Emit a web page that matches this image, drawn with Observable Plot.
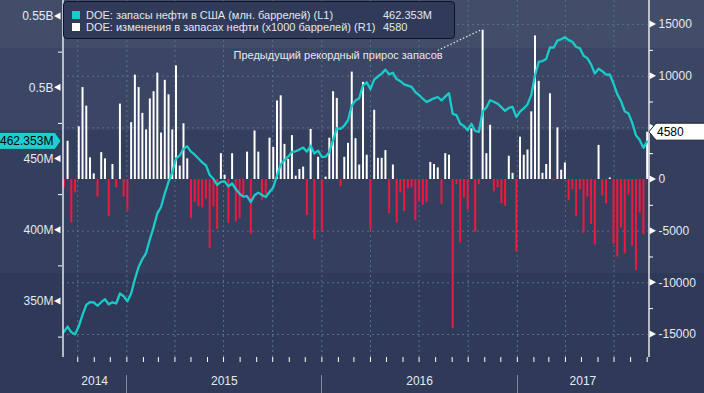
<!DOCTYPE html>
<html>
<head>
<meta charset="utf-8">
<script src="https://cdn.jsdelivr.net/npm/d3@7"></script>
<script src="https://cdn.jsdelivr.net/npm/@observablehq/plot@0.6"></script>
<style>
  html, body { margin: 0; padding: 0; background: #2e3a57; }
  #chart { position: relative; width: 704px; height: 393px; overflow: hidden;
    background: linear-gradient(to bottom, #414d69 0px, #414d69 48px, #3a4663 48px, #3a4663 130px, #333f5c 130px, #333f5c 273px, #2e3a57 273px, #2e3a57 393px);
    font-family: "Liberation Sans", Arial, sans-serif; }
  #chart svg { position: absolute; left: 0; top: 0; }
  .legend { position: absolute; left: 63px; top: 1px; width: 392px; height: 38px; box-sizing: border-box;
    background: #2f3b58; border: 1px solid #0e1424; border-radius: 4px; color: #e3e7ee; font-size: 11px; }
  .legend .row { position: absolute; left: 0; height: 12px; line-height: 12px; white-space: nowrap; }
  .legend .sw { position: absolute; left: 8px; top: 2px; width: 8px; height: 8px; }
  .legend .lab { position: absolute; left: 22px; top: 0; }
  .legend .val { position: absolute; left: 319px; top: 0; }
</style>
</head>
<body>
<div id="chart"></div>
<script>
// ---- data (weekly, Fridays from 2014-09-05 to 2017-09-01) ----
const firstWeek = "2014-09-05";
const lastWeek = "2017-09-01";

// weekly change in crude stocks, thousand barrels (R1)
const changes = [
  -800, 3700, -4200, -1300, 5100, 8900, 7100, 2100, 550, -1700,
  2600, 2000, -3600, 1450, -800, 7300, -1700, -3000, 5500, 10100,
  8900, 6400, 4800, 7800, 8500, 10300, 4500, 9600, 8200, 4800,
  11000, 1300, 5400, 2000, -3800, -2200, -2650, -2750, -1900, -6700,
  -2650, -4850, 2500, 420, -4250, 2500, -4100, -3800, -1600, 2650,
  -5300, 4700, 2650, -2000, -1450, 4000, 3100, 7600, 8100, 3400,
  1950, 4250, 320, 970, 1200, -3500, 4850, -5800, 2150, -5050,
  230, 4000, 8500, 7850, -700, 2150, 3500, 10400, 3950, 1400,
  9400, 2350, -4900, 6700, 2050, 2050, 2800, -3300, 1400, -4200,
  -1300, -3100, -900, -800, -4000, -2100, -2500, -2250, 1650, 1450,
  1130, -2400, 2500, 2350, -14450, -500, -6150, -1800, -2950, 4900,
  -5100, -500, 14450, 2500, 5250, -1200, -800, -2350, -2600, 2250,
  600, -7000, 4100, 2350, 2850, 6550, 13900, 9500, 600, 1450,
  8300, -150, 5000, 900, 1600, -2050, -1000, -3600, -1000, -5200,
  -1700, -4350, -6350, 3300, -1600, -2350, 150, -6250, -7500, -4700,
  -7200, -1500, -6450, -8800, -3250, -5350, 4580
];

// US crude stocks, million barrels (L1)
const stocks = [
  328.5, 332.4, 328.4, 327.0, 332.6, 340.6, 347.6, 349.6, 349.4, 347.0,
  349.5, 351.6, 348.0, 349.4, 348.6, 355.6, 353.7, 350.2, 355.6, 365.6,
  374.2, 379.8, 384.0, 393.5, 402.0, 411.8, 416.3, 425.8, 434.0, 440.5,
  450.3, 452.5, 457.2, 458.9, 455.2, 453.0, 450.3, 447.6, 445.6, 438.8,
  436.1, 431.8, 433.9, 434.3, 430.8, 432.8, 428.9, 425.6, 423.6, 424.0,
  419.8, 424.6, 426.4, 424.8, 423.3, 426.8, 430.0, 438.3, 446.2, 449.3,
  451.6, 455.0, 455.4, 456.6, 458.0, 455.2, 459.3, 453.9, 455.9, 451.4,
  451.6, 455.0, 463.2, 471.6, 471.2, 473.4, 477.2, 487.4, 491.1, 492.7,
  501.7, 503.8, 499.0, 505.7, 507.9, 509.9, 512.7, 509.4, 510.5, 506.1,
  504.6, 502.4, 501.5, 500.6, 497.0, 494.8, 492.3, 490.0, 491.3, 492.6,
  493.5, 491.1, 493.8, 496.2, 481.6, 480.8, 474.8, 473.2, 470.2, 474.7,
  469.7, 469.0, 483.5, 486.1, 491.2, 490.2, 488.8, 486.4, 483.7, 485.9,
  486.5, 479.5, 483.2, 485.5, 488.3, 494.8, 508.6, 518.1, 518.7, 520.2,
  528.4, 528.2, 533.1, 534.0, 535.5, 533.4, 532.3, 528.7, 527.7, 522.5,
  520.8, 516.4, 510.0, 513.3, 511.6, 509.2, 509.3, 503.0, 495.5, 490.7,
  483.5, 482.0, 475.5, 466.7, 463.4, 457.8, 462.353
];

const seriesNames = [
  "DOE: запасы нефти в США (млн. баррелей) (L1)",
  "DOE: изменения в запасах нефти (x1000 баррелей) (R1)"
];
const seriesColors = ["#19cccc", "#ffffff"];
const negColor = "#f2173e";

const leftTicks = [350, 400, 450, 500, 550];
const leftTickLabels = ["350M", "400M", "450M", "0.5B", "0.55B"];
const leftMinor = [325, 375, 425, 475, 525];
const rightTicks = [-15000, -10000, -5000, 0, 5000, 10000, 15000];
const rightMinor = [-12500, -7500, -2500, 2500, 7500, 12500];
const years = ["2014", "2015", "2016", "2017"];

const annotationText = "Предыдущий рекордный прирос запасов";

// ---- scales ----
const xDomain = [new Date("2014-09-02T12:00:00Z"), new Date("2017-09-03T12:00:00Z")];
const rightDomain = [-17230, 17327];
const leftDomain = [310.70, 561.23];
const toRight = v => rightDomain[0] + (v - leftDomain[0]) * (rightDomain[1] - rightDomain[0]) / (leftDomain[1] - leftDomain[0]);

const weeks = d3.utcFriday.range(new Date(firstWeek + "T00:00:00Z"), d3.utcDay.offset(new Date(lastWeek + "T00:00:00Z"), 1));
const data = weeks.map((date, i) => ({date, change: changes[i], stock: stocks[i]}));
const last = data[data.length - 1];
const seriesValues = [d3.format(".3f")(last.stock) + "M", String(last.change)];

// labels hidden behind the last-value tags (as in the original)
const rightLabelTicks = rightTicks.filter(v => Math.abs(v - last.change) > 1200);

// record build for annotation
const recordIdx = d3.maxIndex(changes);
const annotation = [{date: data[recordIdx].date, value: changes[recordIdx], text: annotationText}];

const leftLabelOf = new Map(leftTicks.map((v, i) => [toRight(v), leftTickLabels[i]]));
const quarterStarts = d3.utcMonth.every(3).range(xDomain[0], xDomain[1]);
const monthStarts = d3.utcMonth.range(xDomain[0], xDomain[1]);
const yearStarts = years.slice(1).map(y => new Date(Date.UTC(+y, 0, 1)));
const yearLabels = years.map(y => {
  const a = new Date(Date.UTC(+y, 0, 1)), b = new Date(Date.UTC(+y + 1, 0, 1));
  const lo = a < xDomain[0] ? xDomain[0] : a, hi = b > xDomain[1] ? xDomain[1] : b;
  return {label: y, date: new Date((+lo + +hi) / 2)};
});

const textColor = "#e6e9f0";
const gridColor = "#5f6f8a";

function decorations(index, scales, values, dims) {
  const {x, y} = scales;
  const g = d3.create("svg:g");
  const left = dims.marginLeft, right = dims.width - dims.marginRight;
  const bottom = dims.height - dims.marginBottom;
  // tick triangles
  for (const v of leftTicks) {
    const py = y(toRight(v));
    g.append("path").attr("d", `M${left - 1.5},${py - 3.5}L${left - 8},${py}L${left - 1.5},${py + 3.5}Z`).attr("fill", "#ffffff");
  }
  for (const v of rightTicks) {
    const py = y(v);
    g.append("path").attr("d", `M${right + 1.5},${py - 3.5}L${right + 8},${py}L${right + 1.5},${py + 3.5}Z`).attr("fill", "#ffffff");
  }
  // year separators
  for (const d of yearStarts) {
    const px = Math.round(x(d)) + 0.5;
    g.append("line").attr("x1", px).attr("x2", px).attr("y1", bottom + 18).attr("y2", dims.height)
      .attr("stroke", "#7f8aa0").attr("stroke-width", 1);
  }
  // annotation leader
  const ax = x(annotation[0].date), ay = y(annotation[0].value);
  g.append("line").attr("x1", ax - 2).attr("y1", ay + 0.5).attr("x2", ax - 45).attr("y2", ay + 21)
    .attr("stroke", "#e6e9f0").attr("stroke-width", 1.2).attr("stroke-dasharray", "1.5,2");
  // last value tags
  const ly = y(toRight(last.stock));
  g.append("path").attr("d", `M-2,${ly - 8.5}L55,${ly - 8.5}L61,${ly}L55,${ly + 8.5}L-2,${ly + 8.5}Z`)
    .attr("fill", "#1fcfcf").attr("stroke", "#0b4f55").attr("stroke-width", 1);
  g.append("text").attr("x", 0).attr("y", ly).attr("dy", "0.35em").attr("fill", "#000").attr("font-size", 12)
    .attr("text-anchor", "start").text(seriesValues[0]);
  const ry = y(last.change);
  g.append("path").attr("d", `M${right + 1},${ry}L${right + 8},${ry - 8.5}L${dims.width + 2},${ry - 8.5}L${dims.width + 2},${ry + 8.5}L${right + 8},${ry + 8.5}Z`)
    .attr("fill", "#ffffff").attr("stroke", "#1b2233").attr("stroke-width", 1);
  g.append("text").attr("x", right + 9).attr("y", ry).attr("dy", "0.35em").attr("fill", "#000").attr("font-size", 12)
    .attr("text-anchor", "start").text(seriesValues[1]);
  return g.node();
}

const chart = Plot.plot({
  width: 704, height: 393,
  marginLeft: 62, marginRight: 56, marginTop: 0, marginBottom: 36,
  style: {background: "transparent", fontFamily: "'Liberation Sans', Arial, sans-serif", fontSize: "12px", overflow: "visible"},
  x: {type: "utc", domain: xDomain},
  y: {domain: rightDomain},
  marks: [
    Plot.ruleY(rightTicks.filter(d => d !== 0), {stroke: gridColor, strokeDasharray: "2,3", strokeWidth: 1}),
    Plot.ruleX(quarterStarts, {stroke: gridColor, strokeDasharray: "2,3", strokeWidth: 1}),
    Plot.ruleX(data.filter(d => d.change >= 0), {x: "date", y1: 0, y2: "change", stroke: seriesColors[1], strokeWidth: 2}),
    Plot.ruleX(data.filter(d => d.change < 0), {x: "date", y1: 0, y2: "change", stroke: negColor, strokeWidth: 2}),
    Plot.line(data, {x: "date", y: d => toRight(d.stock), stroke: seriesColors[0], strokeWidth: 2.3}),
    Plot.ruleX([xDomain[0]], {stroke: "#ffffff", strokeWidth: 1.3, dx: 0.5}),
    Plot.ruleX([xDomain[1]], {stroke: "#ffffff", strokeWidth: 1.3, dx: 0.5}),
    Plot.axisY(leftTicks.map(toRight), {anchor: "left", tickSize: 0, tickPadding: 9, tickFormat: d => leftLabelOf.get(d), color: textColor, fontSize: 12}),
    Plot.axisY(leftMinor.map(toRight), {anchor: "left", tickSize: 4, tickPadding: 0, tickFormat: () => "", color: "#ffffff"}),
    Plot.axisY(rightLabelTicks, {anchor: "right", tickSize: 0, tickPadding: 10, tickFormat: d => String(d), color: textColor, fontSize: 12}),
    Plot.axisY(rightMinor, {anchor: "right", tickSize: 4, tickPadding: 0, tickFormat: () => "", color: "#ffffff"}),
    Plot.axisX(monthStarts, {anchor: "bottom", tickSize: 5, tickPadding: 0, tickFormat: () => "", color: "#ffffff"}),
    Plot.text(yearLabels, {x: "date", text: "label", frameAnchor: "bottom", dy: 27, fill: textColor, fontSize: 12}),
    Plot.text(annotation, {x: "date", y: "value", text: "text", dx: -40, dy: 25, textAnchor: "end", fill: textColor, fontSize: 11}),
    decorations
  ]
});

const root = document.getElementById("chart");
root.appendChild(chart);

const legend = document.createElement("div");
legend.className = "legend";
seriesNames.forEach((name, i) => {
  const row = document.createElement("div");
  row.className = "row";
  row.style.top = (6.5 + i * 12) + "px";
  row.style.width = "390px";
  row.innerHTML = `<span class="sw" style="background:${seriesColors[i]}"></span><span class="lab"></span><span class="val"></span>`;
  row.querySelector(".lab").textContent = name;
  row.querySelector(".val").textContent = seriesValues[i];
  legend.appendChild(row);
});
root.appendChild(legend);
</script>
</body>
</html>
